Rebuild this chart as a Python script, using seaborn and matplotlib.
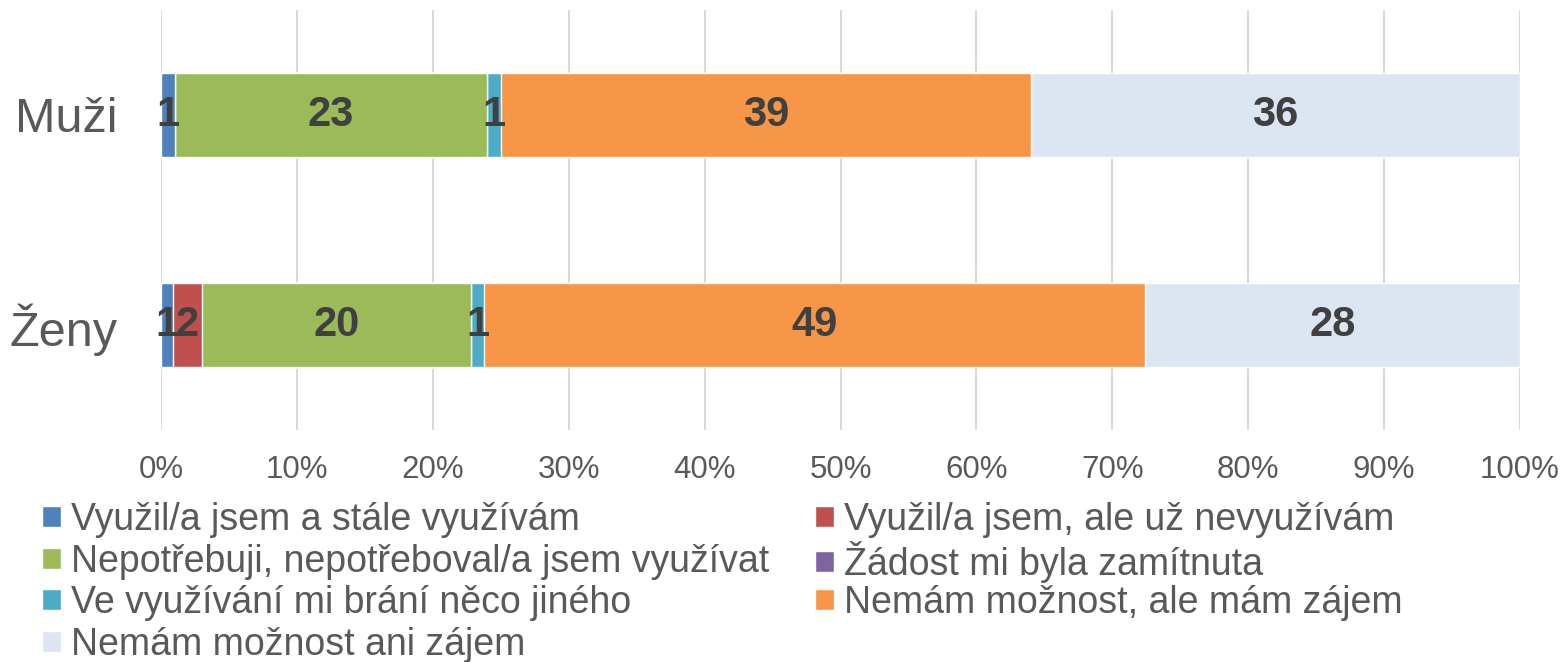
import numpy as np
import pandas as pd
import seaborn as sns
import matplotlib.pyplot as plt
from matplotlib.patches import Patch

groups = ['Muži', 'Ženy']
answers = ['Využil/a jsem a stále využívám',
           'Využil/a jsem, ale už nevyužívám',
           'Nepotřebuji, nepotřeboval/a jsem využívat',
           'Žádost mi byla zamítnuta',
           'Ve využívání mi brání něco jiného',
           'Nemám možnost, ale mám zájem',
           'Nemám možnost ani zájem']
muzi = [1.0, 0.0, 23.0, 0.0, 1.0, 39.0, 36.0]
zeny = [0.9, 2.1, 19.8, 0.0, 1.0, 48.6, 27.6]
colors = ['#4F81BD', '#C0504D', '#9BBB59', '#8064A2', '#4BACC6', '#F79646', '#DCE6F2']

sns.set_style('white')
plt.rcParams['font.family'] = ['Liberation Sans', 'DejaVu Sans']

vals = np.array([muzi, zeny])            # groups x answers
pct = vals / vals.sum(axis=1, keepdims=True) * 100
cum = np.cumsum(pct, axis=1)

fig = plt.figure(figsize=(15.65, 6.62), dpi=100)
ax = fig.add_axes([161 / 1565, 1 - 430 / 662, (1520 - 161) / 1565, 420 / 662])

# stacked bars: draw cumulative totals from the back to the front
for i in range(len(answers) - 1, -1, -1):
    df = pd.DataFrame({'group': groups, 'value': cum[:, i]})
    sns.barplot(data=df, x='value', y='group', color=colors[i], orient='h',
                width=0.4, saturation=1, ax=ax, zorder=3)

# labels in the middle of each segment
for g in range(len(groups)):
    for i in range(len(answers)):
        if vals[g, i] <= 0:
            continue
        xc = cum[g, i] - pct[g, i] / 2
        ax.text(xc, g, '%d' % round(vals[g, i]), ha='center', va='center',
                fontsize=30, fontweight='bold', color='#404040', zorder=5)

ax.set_xlim(0, 100)
ax.set_ylim(1.5, -0.5)
ax.set_xticks(np.arange(0, 101, 10))
ax.set_xticklabels(['%d%%' % t for t in range(0, 101, 10)], fontsize=22.5, color='#595959')
ax.tick_params(axis='y', labelsize=35, labelcolor='#595959', length=0, pad=31)
ax.tick_params(axis='x', length=0, pad=18)
ax.grid(axis='x', color='#D9D9D9', linewidth=1.5, zorder=0)
ax.set_axisbelow(True)
for s in ax.spines.values():
    s.set_visible(False)
ax.set_xlabel('')
ax.set_ylabel('')

# legend: two columns, filled row by row (one entry per legend so rows line up)
col_x = [42, 815]
row_y = [520, 562, 603, 645]
for k in range(len(answers)):
    r, c = k // 2, k % 2
    leg = fig.legend([Patch(facecolor=colors[k])], [answers[k]],
                     loc='center left',
                     bbox_to_anchor=(col_x[c] / 1565, 1 - row_y[r] / 662),
                     frameon=False, fontsize=27, handlelength=0.5, handleheight=0.5,
                     handletextpad=0.27, borderaxespad=0, borderpad=0)
    for t in leg.get_texts():
        t.set_color('#595959')

fig.savefig('out.png', dpi=100)
